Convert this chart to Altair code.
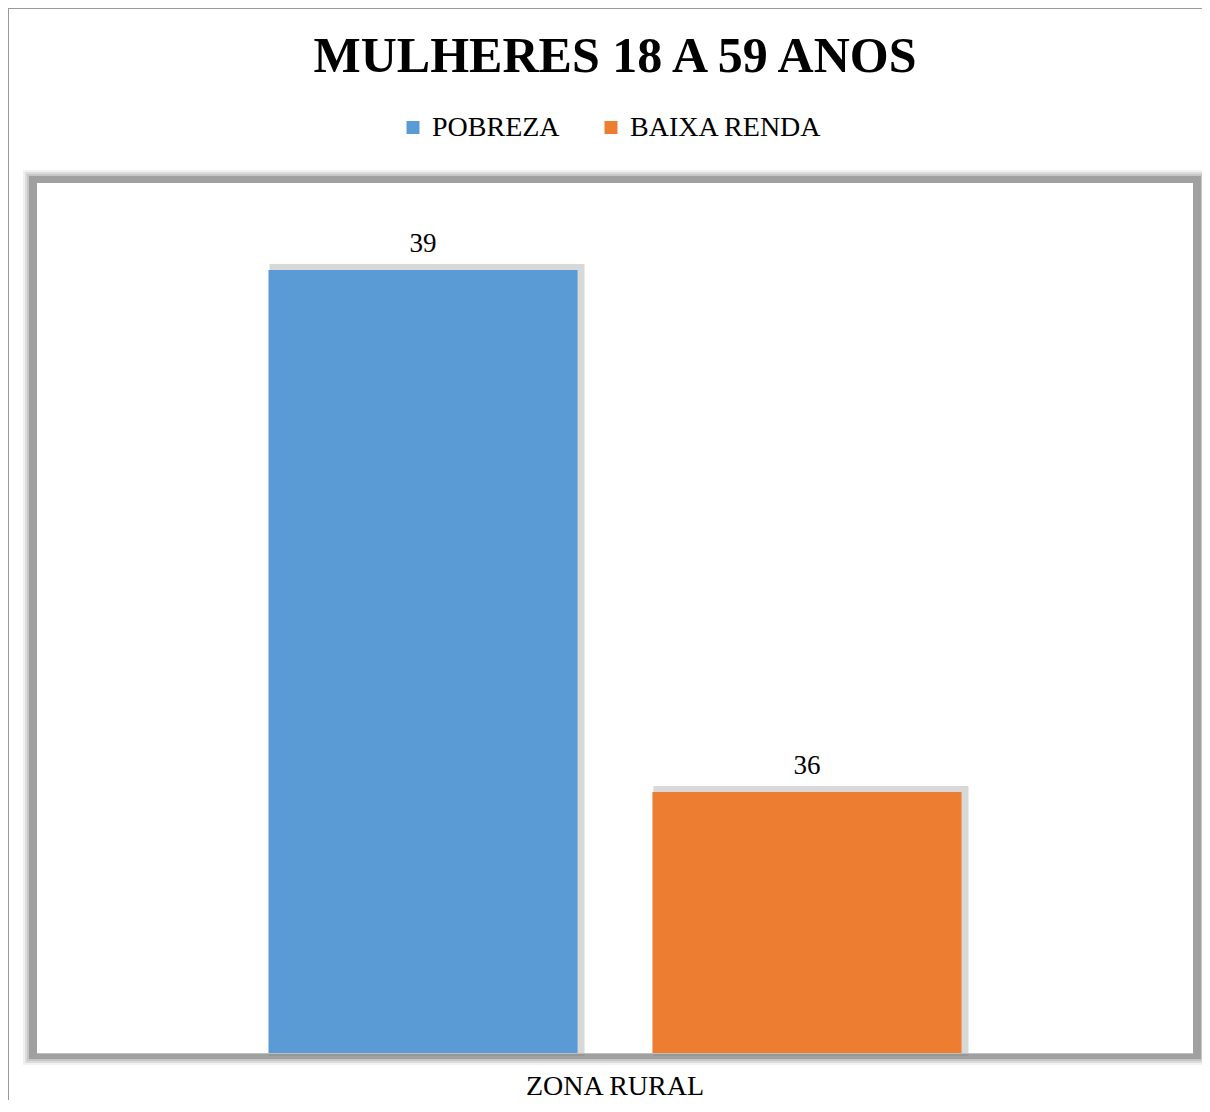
import altair as alt
import pandas as pd

# ---- data ----
zonas = ["ZONA RURAL"]
series = ["POBREZA", "BAIXA RENDA"]
valores = [39, 36]
cores = ["#5B9BD5", "#ED7D31"]
eixo_min = 34.5
eixo_max = 39.5
titulo = "MULHERES 18 A 59 ANOS"

W, H = 1156, 870
GROUP_W = 693     # width of the category group in pixels
BAR_W = 309
FONT = "'Liberation Serif', 'Times New Roman', Times, serif"

df = pd.DataFrame({"zona": [zonas[0]] * len(series), "serie": series, "valor": valores})
one = pd.DataFrame({"k": [0]})

x_enc = alt.X(
    "zona:N",
    scale=alt.Scale(paddingInner=0, paddingOuter=0.334),
    axis=alt.Axis(
        title=None, labelAngle=0, ticks=False, domain=True, domainColor="#bfbfbf",
        labelFont=FONT, labelFontSize=28, labelColor="#000000", labelPadding=19, zindex=1,
    ),
)
xoff_enc = alt.XOffset("serie:N", scale=alt.Scale(domain=series, paddingInner=0.195, paddingOuter=0))
xoff_label = alt.XOffset("serie:N", scale=alt.Scale(domain=series, padding=0,
                                                     range=[BAR_W / 2, GROUP_W - BAR_W / 2]))
xoff_shadow = alt.XOffset("serie:N", scale=alt.Scale(domain=series, paddingInner=0.195, paddingOuter=0,
                                                      range=[4, GROUP_W + 4]))
y_enc = alt.Y("valor:Q", scale=alt.Scale(domain=[eixo_min, eixo_max], zero=False, nice=False), axis=None)

# plot-area shadow (decoration)
shadow_layers = []
for pad, op in [(14, 0.15), (12, 0.25), (10, 0.35), (8, 1.0)]:
    shadow_layers.append(
        alt.Chart(one).mark_rect(color="#a0a0a0", opacity=op).encode(
            x=alt.value(-pad), x2=alt.value(W + pad), y=alt.value(-pad + 1), y2=alt.value(H + pad - 2)
        )
    )
white = alt.Chart(one).mark_rect(color="white").encode(
    x=alt.value(0), x2=alt.value(W), y=alt.value(0), y2=alt.value(H)
)
top_border = alt.Chart(one).mark_rule(color="#9a9a9a", strokeWidth=1).encode(
    x=alt.value(-29), x2=alt.value(W + 30), y=alt.value(-174.5)
)
left_border = alt.Chart(one).mark_rule(color="#9a9a9a", strokeWidth=1).encode(
    x=alt.value(-28.5), y=alt.value(-175), y2=alt.value(H + 60)
)

bar_shadow = alt.Chart(df).mark_bar(
    color="#808080", opacity=0.3, stroke="#808080", strokeWidth=6, yOffset=-3
).encode(x=x_enc, xOffset=xoff_shadow, y=y_enc, y2=alt.datum(eixo_min))

bars = alt.Chart(df).mark_bar().encode(
    x=x_enc,
    xOffset=xoff_enc,
    y=y_enc,
    y2=alt.datum(eixo_min),
    color=alt.Color(
        "serie:N",
        scale=alt.Scale(domain=series, range=cores),
        legend=alt.Legend(
            title=None, orient="none", legendX=362, legendY=-69.5, direction="horizontal",
            symbolType="square", symbolSize=169, symbolStrokeWidth=0, labelFont=FONT,
            labelFontSize=28, labelColor="#000000", labelOffset=5, columnPadding=37,
            labelLimit=400, padding=0,
        ),
    ),
)

labels = alt.Chart(df).mark_text(
    font=FONT, fontSize=27, color="#000000", baseline="alphabetic", dy=-18, align="center"
).encode(x=x_enc, xOffset=xoff_label, y=y_enc, text=alt.Text("valor:Q"))

chart = alt.layer(
    top_border, left_border, *shadow_layers, white, bar_shadow, bars, labels
).resolve_scale(xOffset="independent").properties(
    width=W, height=H,
    title=alt.TitleParams(titulo, font=FONT, fontSize=50, fontWeight="bold", color="#000000",
                          anchor="middle", offset=-74),
    autosize=alt.AutoSizeParams(type="none"),
    padding={"left": 29, "top": 175, "right": 9, "bottom": 47},
    background="white",
).configure_view(strokeWidth=0)

chart.save("out.html", embed_options={"renderer": "svg", "actions": False})
